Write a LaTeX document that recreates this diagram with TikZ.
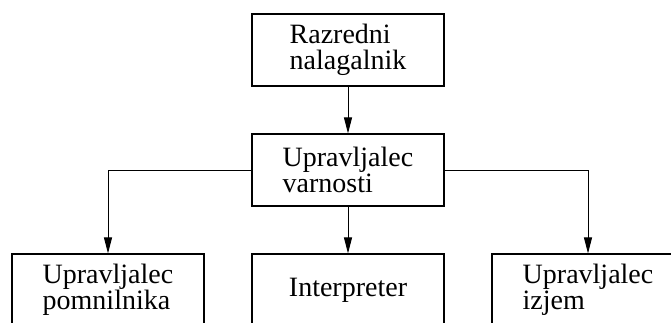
\documentclass[tikz,border=0pt]{standalone}
\usepackage{fontspec}
\setmainfont{Liberation Serif}
\usetikzlibrary{arrows.meta}

\tikzset{
  modbox/.style={draw,line width=1.1pt,minimum width=192pt,minimum height=72pt,
    inner sep=0pt,align=left,font=\fontsize{28}{26}\selectfont},
  link/.style={line width=0.9pt,-{Triangle[length=16pt,width=8pt]}}
}

\begin{document}
\begin{tikzpicture}[x=1pt,y=1pt]
  \useasboundingbox (0,0) rectangle (671,322);
  \clip (0,0) rectangle (671,322);
  % upper part of the tree
  \node[modbox] (razred) at (348,272) {Razredni\\nalagalnik};
  \node[modbox] (varnost) at (348,152) {Upravljalec\\varnosti};
  % lower row, cut off at the bottom
  \node[modbox] (pomnil) at (108,32) {Upravljalec\\pomnilnika};
  \node[modbox] (interp) at (348,32) {Interpreter};
  \node[modbox] (izjeme) at (588,32) {Upravljalec\\izjem};
  % connectors
  \draw[link] (razred) -- (varnost);
  \draw[link] (varnost.west) -| (pomnil);
  \draw[link] (varnost) -- (interp);
  \draw[link] (varnost.east) -| (izjeme);
\end{tikzpicture}
\end{document}
